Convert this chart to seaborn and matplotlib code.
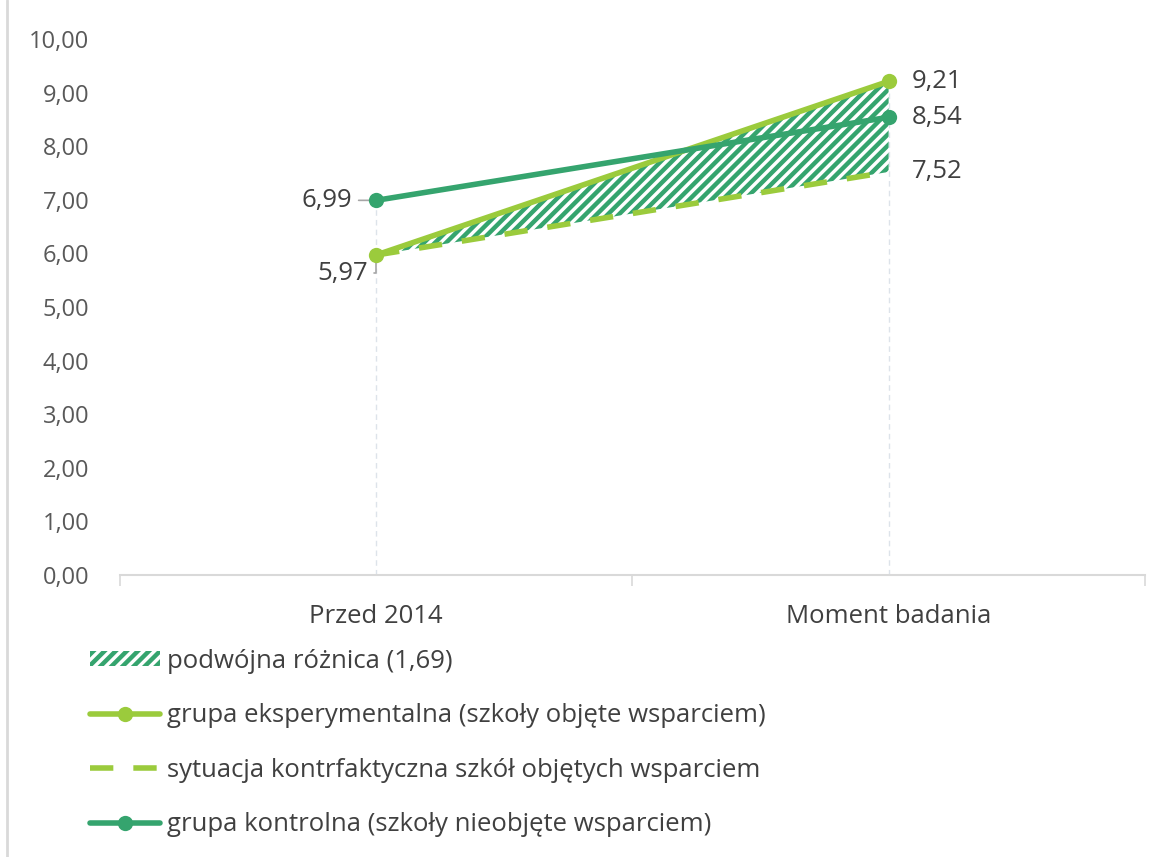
import matplotlib
matplotlib.use("Agg")
import matplotlib.pyplot as plt
import seaborn as sns
import pandas as pd
from matplotlib.lines import Line2D
from matplotlib.patches import Patch
from matplotlib.ticker import FuncFormatter

categories = ["Przed 2014", "Moment badania"]
experimental = [5.97, 9.21]
counterfactual = [5.97, 7.52]
control = [6.99, 8.54]
double_diff = 1.69
yticks = [0, 1, 2, 3, 4, 5, 6, 7, 8, 9, 10]

lab_fill = f"podwójna różnica ({double_diff:.2f})".replace(".", ",")
lab_exp = "grupa eksperymentalna (szkoły objęte wsparciem)"
lab_cf = "sytuacja kontrfaktyczna szkół objętych wsparciem"
lab_ctrl = "grupa kontrolna (szkoły nieobjęte wsparciem)"

LIGHT = "#9BCB3C"
DARK = "#35A46E"
TXT = "#404040"
TICK = "#595959"
GRID = "#D9D9D9"
DASH = (4.2, 3.6)

sns.set_theme(style="white")
plt.rcParams["font.family"] = ["Open Sans", "DejaVu Sans"]
plt.rcParams["hatch.linewidth"] = 3.2
plt.rcParams["hatch.color"] = DARK

fig = plt.figure(figsize=(11.67, 8.57), dpi=100)
ax = fig.add_axes([0.1028, 0.329, 0.8782, 0.6255])

x = list(range(len(categories)))
df = pd.DataFrame({"x": x, "exp": experimental, "cf": counterfactual, "ctrl": control})

# drop lines
for xi in x:
    ax.plot([xi, xi], [0, max(experimental[xi], control[xi])], color="#DDE3EA", lw=1,
            ls=(0, (4, 3)), zorder=0)

# hatched double-difference area
ax.fill_between(x, counterfactual, experimental, facecolor="white", edgecolor=DARK,
                hatch="///", linewidth=0, zorder=1)

sns.lineplot(data=df, x="x", y="cf", ax=ax, color=LIGHT, lw=4, zorder=3)
ax.lines[-1].set_dashes(DASH)
sns.lineplot(data=df, x="x", y="exp", ax=ax, color=LIGHT, lw=4, marker="o",
             markersize=11, markeredgewidth=0, zorder=4)
sns.lineplot(data=df, x="x", y="ctrl", ax=ax, color=DARK, lw=4, marker="o",
             markersize=11, markeredgewidth=0, zorder=5)

# data labels
fs = 18.5
ax.annotate("9,21", (1, experimental[1]), xytext=(17, 0), textcoords="offset points",
            ha="left", va="center", fontsize=fs, color=TXT)
ax.annotate("8,54", (1, control[1]), xytext=(17, 0), textcoords="offset points",
            ha="left", va="center", fontsize=fs, color=TXT)
ax.annotate("7,52", (1, counterfactual[1]), xytext=(17, 0), textcoords="offset points",
            ha="left", va="center", fontsize=fs, color=TXT)
ax.annotate("6,99", (0, control[0]), xytext=(-17, 0), textcoords="offset points",
            ha="right", va="center", fontsize=fs, color=TXT,
            arrowprops=dict(arrowstyle="-", color="#A6A6A6", lw=1.2, shrinkA=2, shrinkB=4))
ax.annotate("5,97", (0, experimental[0]), xytext=(-6, -13), textcoords="offset points",
            ha="right", va="center", fontsize=fs, color=TXT,
            arrowprops=dict(arrowstyle="-", color="#A6A6A6", lw=1.2, shrinkA=2, shrinkB=3,
                            connectionstyle="angle,angleA=0,angleB=90,rad=0"))

ax.set_xlim(-0.5, 1.5)
ax.set_ylim(0, 10)
ax.set_yticks(yticks)
ax.yaxis.set_major_formatter(FuncFormatter(lambda v, p: f"{v:.2f}".replace(".", ",")))
ax.set_xticks(x)
ax.set_xticklabels(categories)
ax.set_xticks([-0.5, 0.5, 1.5], minor=True)
ax.tick_params(axis="x", which="major", length=0, pad=21, labelsize=fs, labelcolor=TXT)
ax.tick_params(axis="x", which="minor", length=8, width=1.2, color=GRID, bottom=True, direction="out")
ax.tick_params(axis="y", length=0, pad=22, labelsize=17, labelcolor=TICK)
ax.set_xlabel("")
ax.set_ylabel("")
for s in ["top", "right", "left"]:
    ax.spines[s].set_visible(False)
ax.spines["bottom"].set_color(GRID)
ax.spines["bottom"].set_linewidth(1.5)
if ax.get_legend():
    ax.get_legend().remove()

handles = [
    Patch(facecolor="white", edgecolor=DARK, hatch="///", linewidth=0),
    Line2D([], [], color=LIGHT, lw=4, marker="o", markersize=11, markeredgewidth=0),
    Line2D([], [], color=LIGHT, lw=4, dashes=DASH),
    Line2D([], [], color=DARK, lw=4, marker="o", markersize=11, markeredgewidth=0),
]
leg = fig.legend(handles, [lab_fill, lab_exp, lab_cf, lab_ctrl], loc="upper left",
                 bbox_to_anchor=(0.077, 0.243), frameon=False, fontsize=fs,
                 handlelength=2.72, handleheight=0.55, handletextpad=0.3, labelspacing=1.15,
                 borderpad=0, borderaxespad=0)
for t in leg.get_texts():
    t.set_color(TXT)

fig.add_artist(Line2D([0.006, 0.006], [0, 1], transform=fig.transFigure, color=GRID, lw=2))

fig.savefig("out.png", dpi=100)
